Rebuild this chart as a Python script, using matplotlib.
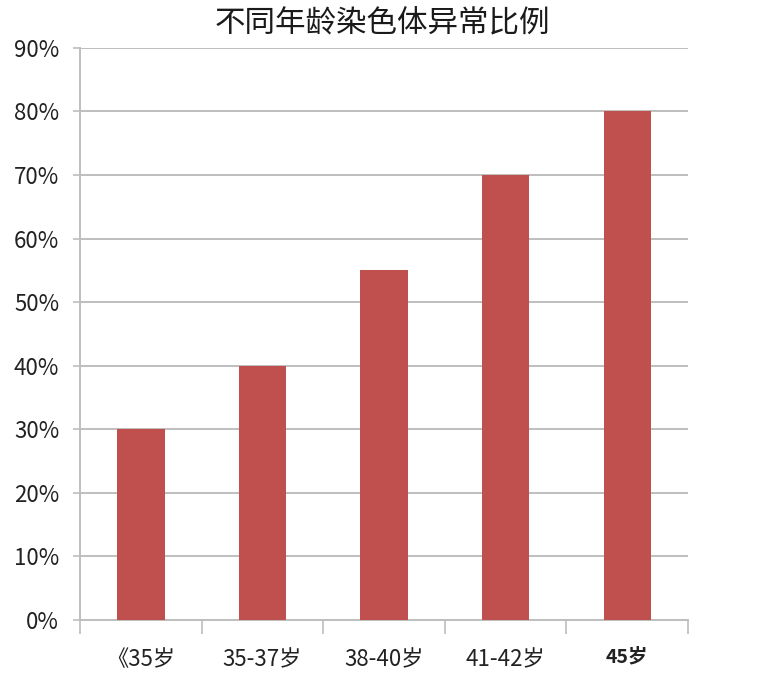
import matplotlib.pyplot as plt
import numpy as np
from matplotlib.ticker import FixedLocator, PercentFormatter

plt.rcParams['font.family'] = ['Noto Sans CJK SC', 'DejaVu Sans']

# 数据
categorias = ['《35岁', '35-37岁', '38-40岁', '41-42岁', '45岁']
porcentajes = [30, 40, 55, 70, 80]
titulo = '不同年龄染色体异常比例'

fig = plt.figure(figsize=(7.8, 6.94), dpi=100)
ax = fig.add_axes([0.1026, 0.1066, 0.7795, 0.8244])

x = np.arange(len(categorias))
ax.bar(x, porcentajes, width=0.39, color='#C0504D', zorder=3)

ax.set_xlim(-0.5, len(categorias) - 0.5)
ax.set_ylim(0, 90)
ax.set_yticks(np.arange(0, 91, 10))
ax.yaxis.set_major_formatter(PercentFormatter(decimals=0))
ax.grid(axis='y', color='#BEBEBE', linewidth=1.4, zorder=0)

# etiquetas del eje x
ax.set_xticks(x)
ax.set_xticklabels(categorias)
ax.tick_params(axis='x', which='major', length=0, pad=20, labelsize=16, labelcolor='#222222')
labels = ax.get_xticklabels()
labels[-1].set_fontweight('bold')
labels[-1].set_fontsize(14)
ax.xaxis.set_minor_locator(FixedLocator(np.arange(-0.5, len(categorias), 1)))
ax.tick_params(axis='x', which='minor', length=10, width=1.2, color='#BEBEBE')

ax.tick_params(axis='y', length=5, width=1.2, color='#BEBEBE', labelsize=16,
               labelcolor='#222222', pad=10)

for lado in ['top', 'right']:
    ax.spines[lado].set_visible(False)
for lado in ['left', 'bottom']:
    ax.spines[lado].set_color('#BEBEBE')
    ax.spines[lado].set_linewidth(1.4)

fig.text(0.49, 0.966, titulo, ha='center', va='center', fontsize=22, color='#1a1a1a')

fig.savefig('out.png', dpi=100)
